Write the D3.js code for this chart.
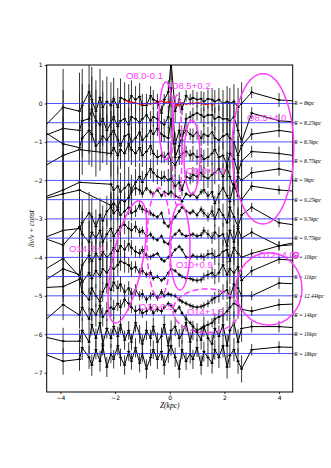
<!DOCTYPE html>
<html><head><meta charset="utf-8">
<script src="https://cdn.jsdelivr.net/npm/d3@7"></script>
<style>body{margin:0;background:#fff}</style>
</head><body><svg id="c" width="331" height="468"></svg>
<script>
// ---------------- DATA ----------------
const zGrid=[-5,-3.9,-3.3,-3.2,-2.95,-2.85,-2.7,-2.55,-2.45,-2.3,-2.15,-2.05,-1.9,-1.8,-1.65,-1.5,-1.4,-1.25,-1.1,-1.0,-0.85,-0.7,-0.6,-0.45,-0.3,-0.2,-0.05,0.05,0.2,0.35,0.45,0.6,0.75,0.85,1.0,1.15,1.25,1.4,1.55,1.65,1.8,1.95,2.1,2.2,2.35,2.5,2.63,3.0,4.0,5];
const offsets=[0,-0.5,-1,-1.5,-2,-2.5,-3,-3.5,-4,-4.5,-5,-5.5,-6,-6.5];
const radii=["R = 8kpc","R = 8.25kpc","R = 8.5kpc","R = 8.75kpc","R = 9kpc","R = 9.25kpc","R = 9.5kpc","R = 9.75kpc","R = 10kpc","R = 11kpc","R = 12.44kpc","R = 14kpc","R = 16kpc","R = 18kpc"];
const s0=[-0.9,-0.1,-0.2,-0.05,0.3,0.1,-0.2,0.15,-0.1,0.05,-0.05,0.12,-0.1,0.15,0.1,0.05,0.2,0.1,0.18,-0.05,-0.05,0.2,0.1,0.05,-0.25,0.1,0.3,1.1,-0.2,0.1,-0.15,0.2,0.1,0.15,0.1,0.12,0.05,0.12,0.1,0.05,0.1,0.0,0.05,0.0,0.05,-0.1,0.0,0.29,0.09,0.05];
const s1=[-0.45,-0.15,-0.2,0.05,0.1,0.35,0.05,-0.05,0.1,-0.2,0.0,0.15,-0.1,0.05,0.1,-0.05,0.15,0.1,0.0,0.1,0.2,0.05,0.15,0.1,0.0,-0.05,0.15,0.9,-0.55,-0.2,-0.45,0.1,0.15,0.2,0.25,0.2,0.15,0.2,0.2,0.1,0.15,0.1,0.1,0.05,0.15,-0.2,-0.5,0.25,0.05,0.0];
const s2=[0.45,-0.05,-0.15,0.1,0.3,0.2,-0.1,0.0,0.15,0.05,0.2,0.3,0.05,-0.1,0.15,0.2,0.0,0.1,0.25,0.05,0.15,0.3,0.2,0.35,0.2,0.15,0.1,0.6,-0.4,-0.1,0.15,0.3,0.2,0.15,0.25,0.1,0.2,0.15,0.25,0.1,0.05,0.15,0.2,0.1,0.0,-0.35,-0.1,0.2,0.3,0.2];
const s3=[-0.3,0.15,0.3,null,null,null,null,null,null,null,0.2,0.35,0.15,0.3,0.2,0.45,0.3,0.2,0.35,0.15,0.25,0.4,0.2,0.1,0.15,0.1,0.2,0.0,-0.1,0.1,0.2,0.25,0.15,0.2,0.1,0.15,0.05,0.1,0.2,0.3,0.1,0.15,-0.1,0.2,0.05,-0.3,0.0,0.25,0.2,0.1];
const s4=[-0.55,-0.25,-0.05,null,null,null,null,null,null,null,-0.1,-0.25,-0.15,-0.3,-0.2,-0.1,-0.25,-0.05,0.1,-0.05,0.15,0.3,0.2,0.1,0.05,0.1,0.0,0.05,-0.15,-0.05,-0.25,0.1,0.05,0.15,0.1,0.2,0.1,0.05,0.15,0.2,0.3,0.1,0.35,0.1,-0.2,0.1,0.0,0.2,0.3,0.15];
const s5=[-0.05,0.15,0.25,null,null,null,null,null,null,null,-0.15,-0.1,-0.2,0.0,-0.05,0.05,0.2,0.3,0.25,0.15,0.3,0.2,0.15,0.25,0.1,0.2,0.15,0.2,0.1,0.05,-0.05,0.15,0.1,0.15,0.05,0.2,0.25,0.1,0.2,-0.1,0.15,0.3,0.1,-0.05,0.4,0.1,0.0,0.35,0.25,0.2];
const s6=[-0.6,-0.3,-0.25,-0.1,0.15,0.05,-0.2,0.1,-0.05,0.2,0.3,0.15,0.25,0.1,0.2,0.3,0.15,0.2,0.35,0.25,0.2,0.15,0.1,0.05,0.15,-0.1,-0.2,-0.1,0.05,0.2,0.3,0.2,0.15,0.2,0.1,0.25,0.15,0.05,0.2,0.0,0.25,0.1,-0.1,0.3,0.05,-0.2,0.1,0.3,-0.1,-0.2];
const s7=[0.1,-0.18,0.3,0.1,-0.1,0.15,0.0,0.2,-0.1,0.1,0.25,0.05,0.2,0.3,0.35,0.25,0.2,0.3,0.15,0.2,0.05,0.1,0.0,-0.05,0.05,-0.1,-0.15,0.0,0.1,0.2,0.1,0.05,0.08,0.1,0.05,0.08,0.2,0.1,0.0,0.15,0.05,0.1,-0.2,0.2,-0.1,0.25,0.0,0.15,-0.2,-0.05];
const s8=[-0.5,-0.03,-0.5,-0.2,0.05,-0.1,0.1,-0.05,0.15,0.0,0.1,0.25,0.15,0.3,0.2,0.35,0.25,0.15,0.1,0.2,0.05,0.0,0.05,0.1,-0.05,-0.1,0.0,0.05,0.2,0.28,0.2,0.0,0.0,0.05,0.0,0.03,0.0,0.08,0.1,0.0,0.05,0.15,0.2,-0.1,0.25,0.1,0.0,0.1,0.3,0.35];
const s9=[-0.3,0.2,0.05,-0.15,0.1,-0.05,0.15,0.0,0.2,0.1,0.25,0.2,0.3,0.4,0.35,0.3,0.2,0.25,0.1,0.15,0.05,0.1,-0.05,0.0,-0.1,-0.05,0.1,0.2,0.15,0.05,0.0,-0.05,-0.05,-0.08,-0.1,-0.08,0.0,0.05,0.1,0.0,0.1,0.3,0.05,0.2,0.1,0.25,-0.1,0.15,0.45,0.4];
const s10=[0.2,0.24,0.43,0.1,-0.1,0.2,0.0,-0.15,0.1,0.3,0.15,0.35,0.2,0.3,0.1,0.2,0.05,0.15,0.0,0.05,-0.1,0.0,0.05,-0.05,0.1,0.0,0.05,0.02,0.0,-0.1,-0.15,-0.2,-0.25,-0.28,-0.3,-0.28,-0.25,-0.2,-0.1,-0.05,0.0,0.1,0.15,-0.05,0.3,0.2,0.0,0.0,0.33,0.3];
const s11=[-0.4,0.27,0.0,0.2,-0.1,0.15,0.0,0.25,-0.05,0.1,0.2,0.15,0.3,0.2,0.4,0.3,0.2,0.1,0.15,0.05,0.1,0.2,0.05,0.15,0.1,0.2,0.3,0.25,0.1,0.2,0.05,-0.1,-0.2,-0.3,-0.4,-0.35,-0.3,-0.25,-0.2,-0.1,-0.05,0.0,0.1,0.2,0.3,0.25,0.15,0.1,0.27,0.3];
const s12=[0.0,-0.18,-0.18,0.1,-0.2,0.25,-0.1,0.3,-0.25,0.15,-0.1,0.2,-0.05,0.25,-0.15,0.1,-0.2,0.3,0.0,-0.25,0.1,-0.1,0.2,-0.2,-0.05,0.25,-0.3,0.1,0.2,-0.1,0.0,0.3,-0.2,0.1,0.05,-0.15,0.2,-0.1,-0.25,0.15,-0.05,0.25,-0.3,0.1,0.3,-0.2,0.15,0.2,0.2,0.15];
const s13=[0.1,-0.2,-0.15,0.15,-0.1,-0.3,0.1,-0.2,0.2,-0.35,0.0,-0.15,0.2,-0.1,-0.3,0.05,-0.2,0.15,-0.25,0.0,-0.4,-0.1,0.1,-0.15,0.05,-0.3,0.0,0.2,-0.1,-0.4,0.1,-0.2,0.0,-0.15,0.15,-0.3,0.05,-0.1,-0.25,0.1,-0.1,0.2,-0.35,-0.05,0.1,-0.2,-0.4,0.1,0.17,0.15];
const series=[s0,s1,s2,s3,s4,s5,s6,s7,s8,s9,s10,s11,s12,s13];
const errU=[0.3,1.0,1.0,0.95,0.9,0.85,0.8,0.75,0.7,0.65,0.6,0.55,0.5,0.5,0.45,0.45,0.4,0.35,0.35,0.3,0.3,0.25,0.25,0.2,0.2,0.15,0.3,0.5,0.3,0.2,0.15,0.15,0.15,0.2,0.2,0.2,0.25,0.25,0.3,0.3,0.3,0.35,0.4,0.4,0.45,0.5,0.55,0.15,0.18,0.2];
const errM=[0.3,0.75,0.65,0.6,0.55,0.5,0.45,0.45,0.4,0.4,0.35,0.3,0.3,0.25,0.25,0.2,0.2,0.15,0.12,0.1,0.08,0.07,0.06,0.05,0.05,0.05,0.05,0.05,0.05,0.05,0.05,0.05,0.05,0.06,0.07,0.08,0.1,0.12,0.15,0.2,0.25,0.3,0.35,0.4,0.45,0.5,0.55,0.12,0.12,0.12];
const errL=[0.3,0.4,0.35,0.35,0.3,0.3,0.3,0.3,0.25,0.25,0.25,0.25,0.2,0.2,0.2,0.18,0.15,0.15,0.12,0.12,0.1,0.1,0.08,0.08,0.08,0.06,0.06,0.06,0.06,0.06,0.06,0.06,0.06,0.06,0.06,0.06,0.08,0.1,0.12,0.15,0.18,0.2,0.25,0.3,0.35,0.35,0.4,0.12,0.15,0.15];
const errB=[0.3,0.35,0.3,0.32,0.3,0.28,0.25,0.27,0.25,0.26,0.25,0.24,0.25,0.23,0.25,0.24,0.22,0.25,0.24,0.23,0.25,0.22,0.24,0.25,0.23,0.25,0.24,0.26,0.25,0.24,0.25,0.23,0.26,0.25,0.24,0.25,0.26,0.25,0.27,0.26,0.28,0.3,0.3,0.32,0.3,0.33,0.35,0.15,0.15,0.15];
const errBySeries=[errU,errU,errU,errU,errU,errM,errM,errM,errM,errM,errL,errL,errB,errB];
const redZ=[-1.63,-1.5,-1.35,-1.2,-1.05,-0.9,-0.75,-0.6,-0.45,-0.3,-0.15,0,0.15,0.3,0.45,0.6,0.75,0.9,1.05,1.2,1.35,1.5,1.6];
const redV=[0.08,0.05,0.03,0.0,-0.02,0.0,-0.01,0.0,0.02,0.06,0.03,0.04,0.0,-0.05,0.02,-0.02,0.01,0.0,0.02,-0.01,-0.02,0.0,-0.05];
const yTicks=[-7,-6,-5,-4,-3,-2,-1,0,1];
const xTicks=[-4,-2,0,2,4];
const ellipses=[
 {z:-0.135,v:-0.455,rz:0.256,rv:1.01,rot:0,dash:false},
 {z:0.267,v:-1.21,rz:0.18,rv:1.43,rot:0,dash:true},
 {z:0.816,v:-1.39,rz:0.29,rv:0.96,rot:0,dash:false},
 {z:3.41,v:-1.18,rz:1.13,rv:1.95,rot:0,dash:false},
 {z:-0.39,v:-3.63,rz:0.44,rv:1.43,rot:0,dash:true},
 {z:-1.55,v:-4.12,rz:0.55,rv:1.62,rot:11.5,dash:false},
 {z:0.377,v:-3.73,rz:0.366,rv:1.12,rot:0,dash:false},
 {z:3.63,v:-4.82,rz:1.21,rv:0.94,rot:0,dash:false},
 {z:1.33,v:-5.39,rz:1.21,rv:0.57,rot:0,dash:true},
 {z:4.62,v:-3.94,rz:0.09,rv:0.065,rot:0,dash:false}
];
const notes=[
 {t:"O8.0-0.1",z:-1.6,v:0.64},
 {t:"O8.5+0.2",z:0.05,v:0.38},
 {t:"O8.5+4.0",z:2.83,v:-0.455},
 {t:"O9.0+1.0",z:0.6,v:-1.83},
 {t:"O14-2.0",z:-3.68,v:-3.86},
 {t:"O10-0.5",z:-1.12,v:-5.37},
 {t:"O10+0.9",z:0.23,v:-4.28},
 {t:"O12+4.0",z:3.23,v:-4.02},
 {t:"O14+1.5",z:0.63,v:-5.5}
];

// ---------------- DRAW ----------------
const svg=d3.select("#c");
const L=46.7,R=292.7,T=65,B=392;
const x=d3.scaleLinear().domain([-4.5,4.5]).range([L,R]);
const y=d3.scaleLinear().domain([-7.5,1]).range([B,T]);
svg.append("rect").attr("width",331).attr("height",468).attr("fill","#fff");
svg.append("clipPath").attr("id","clip").append("rect").attr("x",L).attr("y",T).attr("width",R-L).attr("height",B-T);
const g=svg.append("g").attr("clip-path","url(#clip)");
const line=d3.line().x(d=>x(d.z)).y(d=>y(d.v));

series.forEach((s,i)=>{
  const err=errBySeries[i];
  const pts=[];
  zGrid.forEach((z,j)=>{ if(s[j]!==null) pts.push({z:z,v:offsets[i]+s[j],e:err[j]}); });
  const gs=g.append("g");
  gs.selectAll("line.eb").data(pts).enter().append("line")
    .attr("x1",d=>x(d.z)).attr("x2",d=>x(d.z))
    .attr("y1",d=>y(d.v-d.e)).attr("y2",d=>y(d.v+d.e))
    .attr("stroke","#222").attr("stroke-width",0.9);
  gs.append("path").datum(pts).attr("d",line).attr("fill","none").attr("stroke","#000").attr("stroke-width",1);
  gs.selectAll("line.mk").data(pts).enter().append("line")
    .attr("x1",d=>x(d.z)-1.6).attr("x2",d=>x(d.z)+1.6)
    .attr("y1",d=>y(d.v)).attr("y2",d=>y(d.v))
    .attr("stroke","#000").attr("stroke-width",0.9);
  gs.selectAll("circle").data(pts).enter().append("circle")
    .attr("cx",d=>x(d.z)).attr("cy",d=>y(d.v)).attr("r",1).attr("fill","#000");
});

// red model curve
const red=redZ.map((z,k)=>({z:z,v:redV[k]}));
g.append("path").datum(red).attr("d",line).attr("fill","none").attr("stroke","#ff0000").attr("stroke-width",1.3);

// blue reference lines
svg.selectAll("line.blue").data(offsets).enter().append("line")
  .attr("x1",L).attr("x2",R+2).attr("y1",d=>y(d)).attr("y2",d=>y(d))
  .attr("stroke","#3030ff").attr("stroke-opacity",0.85).attr("stroke-width",1);

// frame
svg.append("rect").attr("x",L).attr("y",T).attr("width",R-L).attr("height",B-T)
  .attr("fill","none").attr("stroke","#000").attr("stroke-width",1);

// axes
const ax=svg.append("g").attr("transform",`translate(0,${B})`)
  .call(d3.axisBottom(x).tickValues(xTicks).tickSize(2).tickPadding(2));
const ay=svg.append("g").attr("transform",`translate(${L},0)`)
  .call(d3.axisLeft(y).tickValues(yTicks).tickSize(2).tickPadding(2));
[ax,ay].forEach(a=>{
  a.select(".domain").remove();
  a.selectAll("text").attr("font-family","DejaVu Sans").attr("font-size","6px").attr("fill","#000");
  a.selectAll("line").attr("stroke","#000").attr("stroke-width",0.8);
});

// axis titles
svg.append("text").attr("x",(L+R)/2).attr("y",408).attr("text-anchor","middle")
  .attr("font-family","Liberation Serif").attr("font-style","italic").attr("font-size","7.5px").text("Z(kpc)");
svg.append("text").attr("transform",`translate(34,${(T+B)/2}) rotate(-90)`).attr("text-anchor","middle")
  .attr("font-family","Liberation Serif").attr("font-style","italic").attr("font-size","7.5px").text("δν/ν + const");

// right labels
svg.selectAll("text.rl").data(offsets).enter().append("text")
  .attr("x",R+1.5).attr("y",d=>y(d)+2).attr("font-family","Liberation Serif").attr("font-style","italic")
  .attr("font-size","5.5px").attr("fill","#000").text((d,i)=>radii[i]);

// magenta annotations
const mag="#ff3cff";
ellipses.forEach(e=>{
  const cx=x(e.z),cy=y(e.v),rx=x(e.z+e.rz)-x(e.z),ry=y(e.v)-y(e.v+e.rv);
  svg.append("ellipse").attr("transform",`translate(${cx},${cy}) rotate(${e.rot})`)
    .attr("rx",rx).attr("ry",ry).attr("fill","none").attr("stroke",mag).attr("stroke-width",1.5)
    .attr("stroke-dasharray",e.dash?"6,3":null);
});
svg.selectAll("text.note").data(notes).enter().append("text")
  .attr("x",d=>x(d.z)).attr("y",d=>y(d.v)).attr("font-family","Liberation Sans")
  .attr("font-size","9.5px").attr("fill",mag).text(d=>d.t);
</script></body></html>
